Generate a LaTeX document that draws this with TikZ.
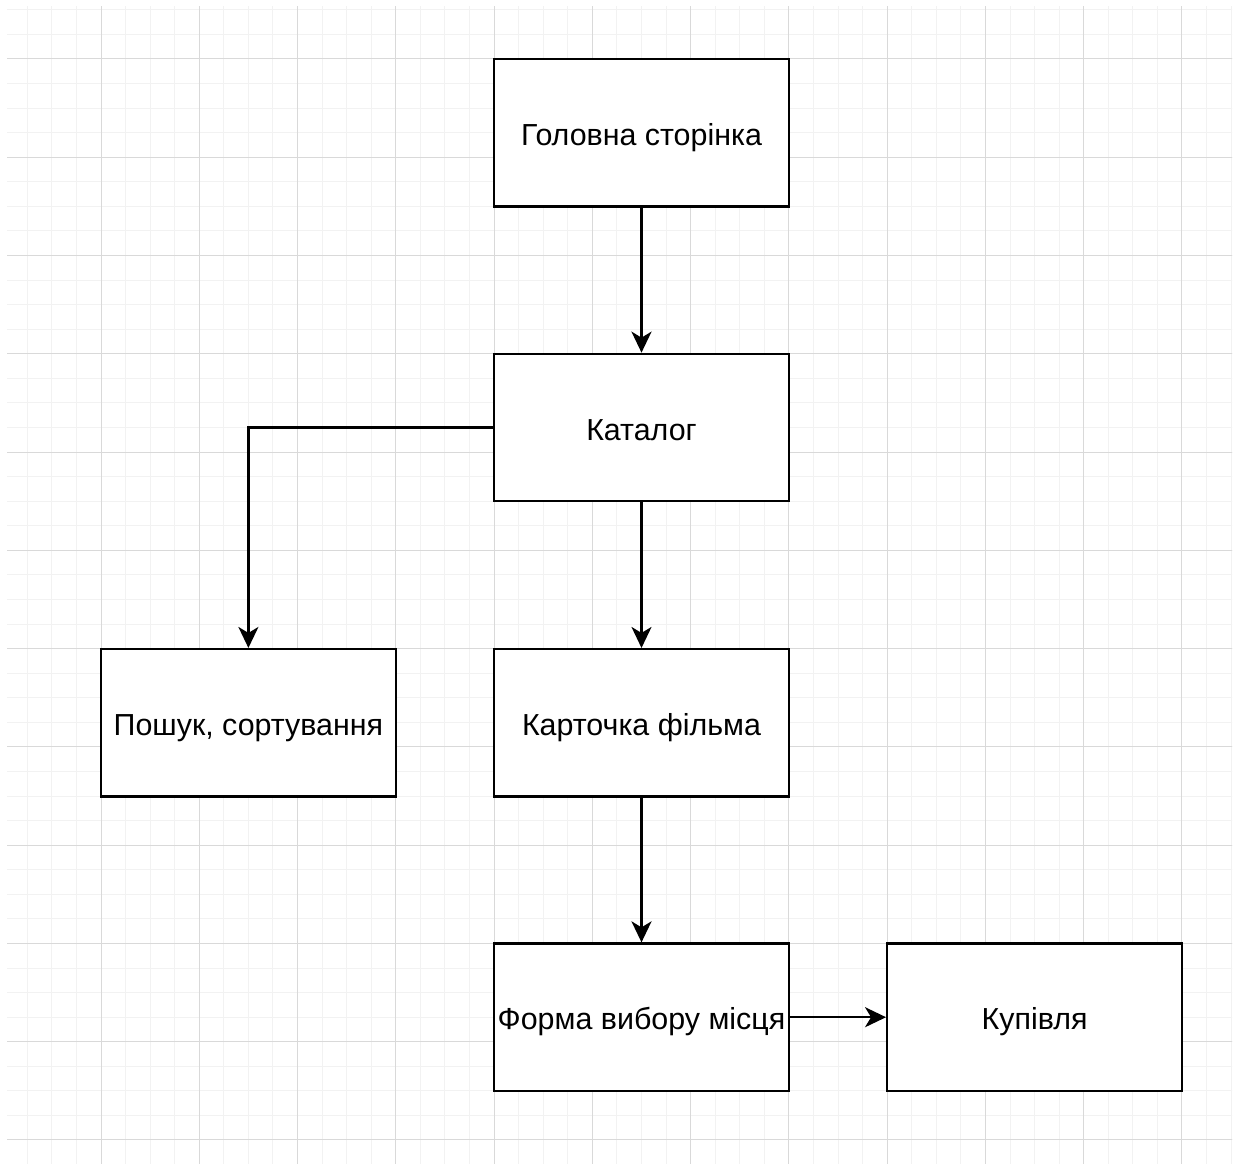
\documentclass[tikz,border=0pt]{standalone}
\usepackage{fontspec}
\setmainfont{Liberation Sans}
\usetikzlibrary{arrows.meta}
\begin{document}
\begin{tikzpicture}[x=1pt,y=-1pt,
  minorline/.style={draw=black!5, line width=1pt},
  majorline/.style={draw=black!15, line width=1pt},
  pagebox/.style={draw=black, fill=white, line width=2.3pt, rectangle,
    minimum width=294.8pt, minimum height=147.4pt, inner sep=0pt,
    text height=25pt, text depth=0pt,
    font=\fontsize{30.4}{36}\selectfont},
  link/.style={draw=black, line width=2.3pt,
    -{Stealth[length=21pt, width=20pt, inset=6pt]}}]
\useasboundingbox[fill=white] (0,0) rectangle (1238,1164);
% background grid
\begin{scope}
  \clip (7,7) rectangle (1232,1163);
  \foreach \i in {0,...,50} {
    \draw[minorline] ({2.73+\i*24.5675},0) -- ++(0,1200);
    \draw[minorline] (0,{-39.27+\i*24.5675}) -- ++(1300,0);
  }
  \foreach \i in {0,...,13} {
    \draw[majorline] ({2.73+\i*98.27},0) -- ++(0,1200);
    \draw[majorline] (0,{-39.27+\i*98.27}) -- ++(1300,0);
  }
\end{scope}
% pages
\node[pagebox] (home) at (641.5,132.7) {Головна сторінка};
\node[pagebox] (catalog) at (641.5,427.5) {Каталог};
\node[pagebox] (search) at (248.4,722.8) {Пошук, сортування};
\node[pagebox] (card) at (641.5,722.8) {Карточка фільма};
\node[pagebox] (seat) at (641.5,1017.2) {Форма вибору місця};
\node[pagebox] (buy) at (1034.6,1017.2) {Купівля};
% transitions
\draw[link] (home) -- (catalog);
\draw[link] (catalog.west) -| (search.north);
\draw[link] (catalog) -- (card);
\draw[link] (card) -- (seat);
\draw[link] (seat) -- (buy);
\end{tikzpicture}
\end{document}
